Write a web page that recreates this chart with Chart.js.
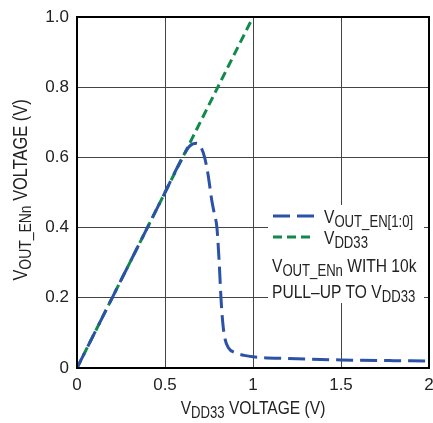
<!DOCTYPE html>
<html>
<head>
<meta charset="utf-8">
<script src="https://cdn.jsdelivr.net/npm/chart.js@4"></script>
<style>
  html, body { margin: 0; padding: 0; background: #fff; }
  #wrap { width: 433px; height: 423px; }
</style>
</head>
<body>
<div id="wrap"><canvas id="myChart" width="433" height="423"></canvas></div>
<script>
// V_OUT_EN[1:0] curve
const voutX = [0, 0.1, 0.2, 0.3, 0.4, 0.5, 0.6, 0.64, 0.68, 0.705, 0.725, 0.745, 0.765, 0.78, 0.795, 0.808, 0.818, 0.828, 0.84, 0.86, 0.9, 0.95, 1.0, 1.2, 1.5, 1.8, 2.0];
const voutY = [0, 0.1, 0.2, 0.3, 0.4, 0.5, 0.6, 0.632, 0.64, 0.628, 0.6, 0.55, 0.48, 0.44, 0.4, 0.3, 0.2, 0.13, 0.085, 0.058, 0.043, 0.036, 0.032, 0.027, 0.023, 0.021, 0.02];
// V_DD33 reference line
const vddX = [0, 1];
const vddY = [0, 1];

const xTickLabels = ['0', '0.5', '1', '1.5', '2'];
const yTickLabels = ['0', '0.2', '0.4', '0.6', '0.8', '1.0'];

const FONT = '"Liberation Sans", Arial, sans-serif';
const BLUE = '#2b52a8';
const GREEN = '#0f8a4a';
const SX = 0.82; // squeeze custom text to look condensed

const pts = (xs, ys) => xs.map((x, i) => ({ x: x, y: ys[i] }));

// draws text runs, some of them as subscripts
function subText(c, parts, x, y, size) {
    c.save();
    c.translate(x, y);
    c.scale(SX, 1);
    let cx = 0;
    parts.forEach(p => {
        const sub = p[1];
        c.font = (sub ? size - 3 : size) + 'px ' + FONT;
        c.fillText(p[0], cx, sub ? 4 : 0);
        cx += c.measureText(p[0]).width;
    });
    c.restore();
}
function subWidth(c, parts, size) {
    let w = 0;
    parts.forEach(p => {
        c.font = (p[1] ? size - 3 : size) + 'px ' + FONT;
        w += c.measureText(p[0]).width;
    });
    return w * SX;
}

const legendBox = {
    id: 'legendBox',
    beforeDatasetsDraw(chart) {
        const c = chart.ctx;
        c.save();
        c.fillStyle = '#fff';
        c.fillRect(268, 205, 156, 98);
        c.restore();
    },
    afterDraw(chart) {
        const c = chart.ctx;
        const a = chart.chartArea;
        c.save();
        // plot frame
        c.strokeStyle = '#000';
        c.lineWidth = 2;
        c.strokeRect(a.left, a.top, a.right - a.left, a.bottom - a.top);

        c.fillStyle = '#222';
        c.textBaseline = 'alphabetic';
        const fs = 19;

        // legend
        c.lineWidth = 3;
        c.strokeStyle = BLUE;
        c.setLineDash([17, 7]);
        c.beginPath(); c.moveTo(273, 216); c.lineTo(315, 216); c.stroke();
        c.strokeStyle = GREEN;
        c.setLineDash([9, 5]);
        c.beginPath(); c.moveTo(273, 237); c.lineTo(315, 237); c.stroke();
        c.setLineDash([]);
        subText(c, [['V', false], ['OUT_EN[1:0]', true]], 324, 223, fs);
        subText(c, [['V', false], ['DD33', true]], 324, 244, fs);
        subText(c, [['V', false], ['OUT_EN', true], ['n', true], [' WITH 10k', false]], 272, 272, fs);
        subText(c, [['PULL\u2013UP TO V', false], ['DD33', true]], 272, 298, fs);

        // x axis title
        const xt = [['V', false], ['DD33', true], [' VOLTAGE (V)', false]];
        const xw = subWidth(c, xt, fs);
        subText(c, xt, (a.left + a.right) / 2 - xw / 2, 414, fs);

        // y axis title
        const yt = [['V', false], ['OUT_EN', true], ['n', true], [' VOLTAGE (V)', false]];
        const yw = subWidth(c, yt, fs + 1);
        c.translate(27, 190);
        c.rotate(-Math.PI / 2);
        subText(c, yt, -yw / 2, 0, fs + 1);
        c.restore();
    }
};

const ctx = document.getElementById('myChart').getContext('2d');

const myChart = new Chart(ctx, {
    type: 'line',
    data: {
        datasets: [{
            label: 'VOUT_EN[1:0]',
            data: pts(voutX, voutY),
            borderColor: BLUE,
            borderWidth: 3,
            borderDash: [17, 7],
            pointRadius: 0,
            cubicInterpolationMode: 'monotone',
            fill: false
        }, {
            label: 'VDD33',
            data: pts(vddX, vddY),
            borderColor: GREEN,
            borderWidth: 3,
            borderDash: [9, 5],
            pointRadius: 0,
            fill: false
        }]
    },
    options: {
        responsive: false,
        animation: false,
        layout: { padding: { top: 17, right: 4, left: 0, bottom: 0 } },
        plugins: {
            legend: { display: false },
            tooltip: { enabled: false }
        },
        scales: {
            x: {
                type: 'linear',
                min: 0,
                max: 2,
                afterBuildTicks: s => { s.ticks = xTickLabels.map(v => ({ value: parseFloat(v) })); },
                afterFit: s => { s.height = 55; s.paddingLeft = 0; s.paddingRight = 0; },
                grid: { color: '#444', lineWidth: 1, drawTicks: false },
                border: { display: false },
                ticks: {
                    color: '#222',
                    padding: 7,
                    maxRotation: 0,
                    font: { family: FONT, size: 17 },
                    callback: (v, i) => xTickLabels[i]
                }
            },
            y: {
                min: 0,
                max: 1,
                afterBuildTicks: s => { s.ticks = yTickLabels.map(v => ({ value: parseFloat(v) })); },
                afterFit: s => { s.width = 77; s.paddingTop = 0; s.paddingBottom = 0; },
                grid: { color: '#444', lineWidth: 1, drawTicks: false },
                border: { display: false },
                ticks: {
                    color: '#222',
                    padding: 8,
                    font: { family: FONT, size: 17 },
                    callback: (v, i) => yTickLabels[i]
                }
            }
        }
    },
    plugins: [legendBox]
});
</script>
</body>
</html>
